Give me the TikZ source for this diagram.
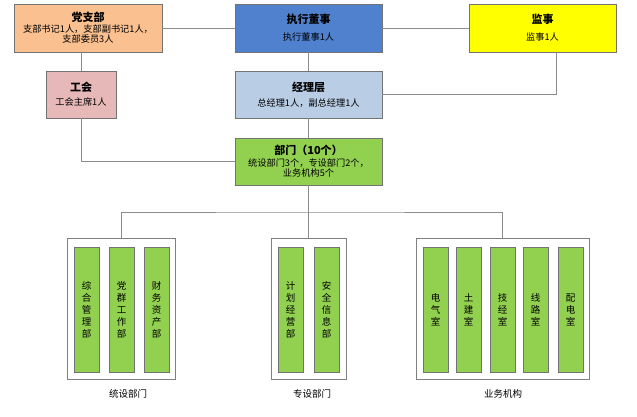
\documentclass[tikz,border=0pt]{standalone}
\usepackage{fontspec}
\setmainfont{Noto Sans CJK SC}
\usetikzlibrary{calc}
\definecolor{cdang}{HTML}{FAC090}
\definecolor{cdong}{HTML}{4F81CF}
\definecolor{cjian}{HTML}{FFFF00}
\definecolor{cgong}{HTML}{E6B9B8}
\definecolor{cjing}{HTML}{B9CDE5}
\definecolor{cgreen}{HTML}{92D050}
\definecolor{cline}{HTML}{8C8C8C}
\tikzset{
  orgbox/.style={draw=black!55, line width=0.9pt, rectangle, inner sep=0pt, align=center, font=\fontsize{9.2}{12}\selectfont},
  grpbox/.style={draw=black!50, line width=0.9pt, fill=white, rectangle, inner sep=0pt, minimum height=141pt, minimum width=#1},
  bar/.style={draw=black!55, line width=0.9pt, fill=cgreen, rectangle, inner sep=0pt, minimum width=25pt, minimum height=125pt, align=center, font=\fontsize{9.5}{12}\selectfont},
  conn/.style={draw=cline, line width=1pt},
  caption/.style={font=\fontsize{9.5}{11}\selectfont, inner sep=0pt}
}
\newcommand{\ttlfont}{\fontsize{11}{13}\selectfont\bfseries}
\begin{document}
\begin{tikzpicture}[x=1pt,y=-1pt]
\useasboundingbox (0,0) rectangle (637,416);
% top row
\node[orgbox, fill=cdang, minimum width=148pt, minimum height=48pt] (dang) at (88,28)
  {{\ttlfont 党支部}\\[-1pt]支部书记1人，支部副书记1人，\\[-2pt]支部委员3人};
\node[orgbox, fill=cdong, minimum width=147pt, minimum height=48pt] (dong) at (308.5,28)
  {{\ttlfont 执行董事}\\[5pt]执行董事1人};
\node[orgbox, fill=cjian, minimum width=147pt, minimum height=48pt] (jian) at (542.5,28)
  {{\ttlfont 监事}\\[5pt]监事1人};
% second row
\node[orgbox, fill=cgong, minimum width=70pt, minimum height=47pt] (gong) at (81,94.5)
  {{\ttlfont 工会}\\[2pt]工会主席1人};
\node[orgbox, fill=cjing, minimum width=147pt, minimum height=47pt] (jing) at (308.5,94.5)
  {{\ttlfont 经理层}\\[3pt]总经理1人，副总经理1人};
% third row
\node[orgbox, fill=cgreen, minimum width=147pt, minimum height=47pt] (bumen) at (308.5,161.5)
  {{\ttlfont 部门（10个）}\\[0pt]统设部门3个，专设部门2个，\\[-2pt]业务机构5个};
% groups
\node[grpbox=108pt] (g1) at (121,308.5) {};
\node[grpbox=75pt] (g2) at (308.5,308.5) {};
\node[grpbox=173pt] (g3) at (502.5,308.5) {};
% bars
\node[bar] (b11) at (86.5,309.5) {综\\合\\管\\理\\部};
\node[bar] (b12) at (121.5,309.5) {党\\群\\工\\作\\部};
\node[bar] (b13) at (156.5,309.5) {财\\务\\资\\产\\部};
\node[bar] (b21) at (290.5,309.5) {计\\划\\经\\营\\部};
\node[bar] (b22) at (326.5,309.5) {安\\全\\信\\息\\部};
\node[bar] (b31) at (435.5,309.5) {电\\气\\室};
\node[bar] (b32) at (468.5,309.5) {土\\建\\室};
\node[bar] (b33) at (502.5,309.5) {技\\经\\室};
\node[bar] (b34) at (535.5,309.5) {线\\路\\室};
\node[bar] (b35) at (570.5,309.5) {配\\电\\室};
% captions
\node[caption] (c1) at (128,394) {统设部门};
\node[caption] (c2) at (312,394) {专设部门};
\node[caption] (c3) at (503,394) {业务机构};
% connectors
\coordinate (bus) at (308.5,212);
\coordinate (jdrop) at ($(jian.south)+(13.5,0)$);
\draw[conn] (dang.east) -- (dong.west);
\draw[conn] (dong.east) -- (jian.west);
\draw[conn] (gong.north |- dang.south) -- (gong.north);
\draw[conn] (dong.south) -- (jing.north);
\draw[conn] (jdrop) |- (jing.east);
\draw[conn] (gong.south) |- (bumen.west);
\draw[conn] (jing.south) -- (bumen.north);
\draw[conn] (bumen.south) -- (bus);
\draw[conn] (g1.north) |- (bus) -| (g3.north);
\draw[conn] (bus) -- (g2.north);
\end{tikzpicture}
\end{document}
